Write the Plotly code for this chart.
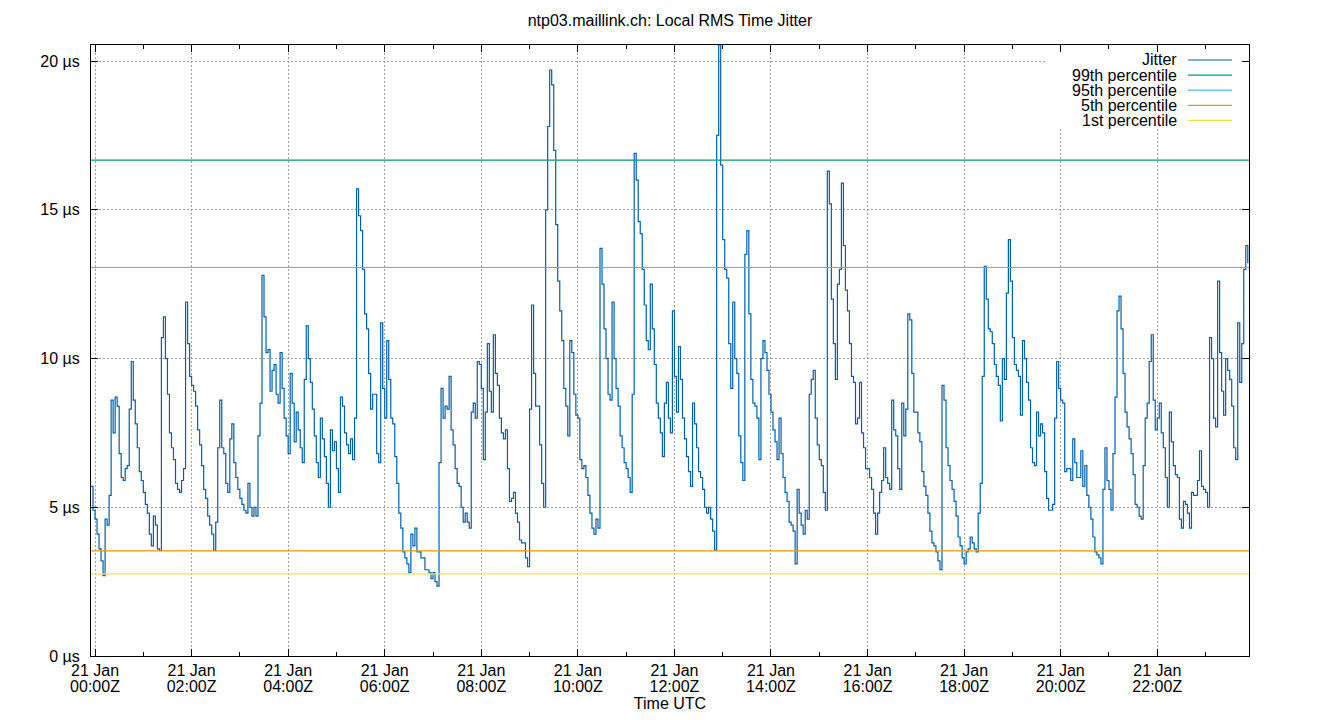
import pandas as pd
import plotly.graph_objects as go

title_text = "ntp03.maillink.ch: Local RMS Time Jitter"
x_title = "Time UTC"
series_start = "2024-01-20 23:55:00"
step = "150s"   # 2.5-minute samples
x_range = ["2024-01-20 23:55:00", "2024-01-21 23:54:00"]
y_range = [0, 20.54]

# Local RMS time jitter in microseconds (first two samples are 20 Jan 23:55 and 23:57:30)
jitter_us = [
    5.7, 4.9,
    4.6, 4.1, 3.6, 3.2, 2.7, 4.6, 4.4, 5.4, 8.6, 7.5, 8.7, 8.4,
    6.8, 6.0, 5.9, 6.3, 6.4, 8.3, 9.9, 8.6, 7.8, 7.0, 6.2, 5.9,          # 00h
    5.5, 5.1, 4.8, 4.1, 3.7, 4.7, 4.4, 3.6, 3.55, 10.7, 11.4, 10.0,
    8.8, 7.5, 7.0, 6.6, 5.8, 5.6, 5.5, 5.9, 6.3, 11.9, 10.5, 9.4,        # 01h
    9.1, 8.9, 8.4, 7.6, 7.1, 6.4, 5.6, 5.3, 4.7, 4.4, 4.1, 3.55,
    4.5, 7.0, 8.6, 7.0, 6.8, 5.8, 5.5, 7.3, 7.8, 6.5, 6.0, 5.6,          # 02h
    5.3, 5.1, 4.9, 4.8, 5.8, 5.0, 4.7, 5.0, 4.7, 7.4, 8.5, 12.8,
    11.4, 10.2, 10.3, 8.9, 9.6, 9.8, 8.8, 8.5, 10.2, 9.0, 8.0, 7.4,      # 03h
    6.8, 9.5, 8.5, 7.2, 8.2, 7.6, 7.0, 6.5, 9.3, 11.1, 10.0, 9.2,
    8.3, 7.4, 6.5, 6.0, 8.0, 7.3, 6.7, 5.8, 5.0, 7.6, 6.9, 7.2,          # 04h
    6.3, 5.5, 8.7, 8.4, 7.5, 7.1, 6.8, 7.3, 6.6, 8.0, 15.7, 14.8,
    14.3, 13.0, 11.5, 11.0, 9.5, 8.3, 8.8, 8.8, 6.8, 6.5, 11.2, 9.0,     # 05h
    8.0, 10.6, 9.3, 8.0, 7.8, 6.7, 5.8, 4.8, 4.3, 3.5, 3.3, 3.1,
    2.8, 4.1, 3.7, 4.3, 3.5, 3.5, 3.3, 3.3, 2.9, 2.9, 2.8, 2.6,          # 06h
    2.8, 2.5, 2.35, 6.5, 9.0, 8.0, 8.4, 8.3, 9.4, 7.6, 7.1, 6.3,
    5.8, 5.7, 5.0, 4.5, 4.8, 4.5, 4.3, 8.2, 8.5, 8.0, 9.9, 9.8,          # 07h
    9.0, 6.6, 8.2, 10.5, 8.9, 8.2, 10.8, 9.5, 9.1, 8.0, 7.5, 7.3,
    7.6, 6.3, 5.2, 5.3, 5.5, 4.8, 4.5, 3.9, 3.8, 3.8, 3.3, 3.0,          # 08h
    8.3, 11.8, 9.5, 8.4, 8.4, 7.1, 5.8, 5.0, 15.0, 17.8, 19.7, 19.2,
    17.0, 14.5, 12.6, 11.6, 10.6, 9.0, 8.4, 7.4, 10.6, 10.2, 8.8, 8.1,   # 09h
    8.0, 6.6, 6.3, 6.4, 6.0, 5.4, 4.8, 4.3, 4.1, 4.6, 4.3, 13.7,
    12.5, 11.0, 10.0, 8.8, 8.6, 11.9, 10.0, 9.0, 8.4, 7.4, 7.0, 6.5,     # 10h
    6.3, 6.0, 5.5, 8.8, 16.9, 16.0, 14.6, 14.2, 13.0, 11.8, 10.6, 10.3,
    12.5, 11.0, 9.8, 8.5, 8.0, 7.5, 6.7, 8.5, 9.2, 8.0, 7.5, 11.6,       # 11h
    9.4, 8.2, 10.4, 9.3, 8.0, 7.3, 6.7, 6.2, 5.7, 8.5, 7.8, 7.0,
    6.2, 6.0, 5.6, 5.0, 4.8, 5.0, 4.6, 4.2, 3.55, 17.5, 20.54, 16.5,     # 12h
    14.0, 13.0, 12.7, 10.5, 9.0, 11.9, 10.0, 9.5, 7.4, 6.5, 5.9, 13.5,
    14.3, 11.5, 9.3, 8.5, 8.4, 8.0, 6.6, 10.0, 10.6, 10.2, 9.6, 8.8,     # 13h
    8.2, 7.6, 7.2, 6.6, 8.0, 6.8, 6.0, 5.5, 5.2, 4.5, 4.4, 4.2,
    3.1, 5.6, 4.8, 4.4, 4.1, 4.9, 4.6, 8.8, 9.3, 9.6, 8.0, 7.1,          # 14h
    6.6, 6.4, 5.5, 4.9, 16.3, 15.2, 12.0, 10.5, 9.3, 12.5, 13.0, 15.9,
    13.8, 12.3, 11.6, 10.5, 9.4, 9.2, 7.8, 8.0, 9.2, 7.5, 7.0, 6.3,      # 15h
    6.3, 6.0, 5.6, 4.8, 4.1, 4.8, 5.5, 5.9, 7.0, 6.0, 5.8, 5.6,
    8.6, 7.6, 7.4, 6.3, 5.6, 8.5, 7.4, 8.3, 11.5, 11.3, 9.5, 8.2,        # 16h
    8.2, 7.5, 7.2, 6.2, 5.7, 5.4, 4.8, 4.2, 3.8, 3.7, 3.5, 3.2,
    2.9, 9.1, 8.6, 7.0, 6.4, 5.9, 5.6, 5.2, 4.7, 4.0, 3.7, 3.3,          # 17h
    3.1, 3.5, 3.6, 4.0, 3.8, 3.6, 3.5, 4.8, 5.8, 9.4, 13.1, 12.0,
    11.0, 10.9, 10.5, 9.8, 9.4, 9.1, 7.9, 10.0, 9.3, 12.2, 14.0, 12.6,   # 18h
    10.7, 9.8, 9.6, 9.4, 8.1, 10.6, 10.0, 9.2, 8.6, 7.0, 6.5, 6.4,
    8.2, 7.4, 7.8, 7.5, 6.2, 5.3, 4.9, 4.9, 5.1, 8.0, 9.9, 9.0,          # 19h
    8.6, 8.5, 6.2, 6.3, 6.3, 5.9, 7.3, 6.5, 6.0, 6.0, 6.9, 5.7,
    6.4, 5.4, 5.0, 4.6, 4.0, 3.5, 3.4, 3.3, 3.1, 5.6, 7.0, 5.9,          # 20h
    5.6, 4.9, 6.8, 8.7, 11.6, 12.1, 11.0, 9.5, 8.2, 7.7, 7.3, 6.8,
    6.1, 5.1, 5.0, 4.7, 4.6, 6.4, 8.0, 8.5, 9.9, 10.8, 8.6, 7.6,         # 21h
    8.0, 8.5, 7.5, 7.0, 6.0, 5.0, 8.2, 7.2, 6.4, 6.1, 6.0, 4.6,
    4.3, 5.2, 5.1, 4.8, 4.3, 5.5, 5.4, 5.4, 5.9, 6.9, 5.7, 5.6,          # 22h
    5.5, 5.0, 10.7, 10.0, 8.0, 7.7, 12.6, 10.2, 8.9, 8.1, 10.0, 9.6,
    9.3, 8.4, 7.0, 6.6, 11.2, 9.2, 10.5, 13.0, 13.8, 13.2,               # 23h
]

series_names = ["Jitter", "99th percentile", "95th percentile", "5th percentile", "1st percentile"]
series_colors = ["#0060ad", "#009e73", "#56b4e9", "#e69f00", "#f0e442"]
percentile_values = [16.67, 13.06, 3.535, 2.76]

times = pd.date_range(series_start, periods=len(jitter_us), freq=step)

FONT = "Liberation Sans, Arial, sans-serif"
OFF = 8                      # page body margin
W, H = 1340 - 2 * OFF, 720 - 2 * OFF
L, R, T, B = 91 - OFF, 1249 - OFF, 45 - OFF, 656 - OFF   # plot area in figure px

fig = go.Figure()
fig.add_trace(go.Scatter(
    x=times, y=jitter_us, mode="lines", name=series_names[0],
    line=dict(color=series_colors[0], width=1.2, shape="hv"),
    xaxis="x", yaxis="y", showlegend=False,
))
for name, val, col in zip(series_names[1:], percentile_values, series_colors[1:]):
    fig.add_trace(go.Scatter(
        x=x_range, y=[val, val], mode="lines", name=name,
        line=dict(color=col, width=1.2),
        xaxis="x2", yaxis="y", showlegend=False,
    ))

grid = dict(showgrid=True, gridcolor="#a0a0a0", griddash="2px,2px", gridwidth=1)

fig.update_layout(
    width=W, height=H,
    margin=dict(l=L, r=W - R, t=T, b=H - B, autoexpand=False),
    paper_bgcolor="white", plot_bgcolor="white",
    font=dict(family=FONT, size=16, color="black"),
    showlegend=False,
    title=dict(text=title_text, x=0.5, xanchor="center", y=1 - (20 - OFF) / H,
               yanchor="middle", yref="container",
               font=dict(family=FONT, size=16, color="black")),
    xaxis=dict(
        type="date", range=x_range, tickformat="%d %b",
        tick0="2024-01-21 00:00:00", dtick=7200000, tickmode="linear",
        ticks="inside", ticklen=7, tickcolor="black", tickwidth=1,
        minor=dict(dtick=3600000, tick0="2024-01-21 00:00:00", ticks="inside",
                   ticklen=4, tickcolor="black", showgrid=False),
        showline=True, linecolor="black", linewidth=1, mirror="ticks",
        zeroline=False, **grid,
    ),
    xaxis2=dict(
        type="date", range=x_range, overlaying="x", anchor="y", side="bottom",
        matches="x",
        tickformat="%H:%MZ", tick0="2024-01-21 00:00:00", dtick=7200000,
        tickmode="linear", ticks="", showline=False, showgrid=False,
        zeroline=False, ticklabelstandoff=19,
        title=dict(text=x_title, standoff=10, font=dict(family=FONT, size=16)),
    ),
    yaxis=dict(
        range=y_range, tickmode="linear", tick0=0, dtick=5, ticksuffix=" µs",
        ticks="inside", ticklen=7, tickcolor="black", tickwidth=1,
        ticklabelstandoff=7,
        showline=True, linecolor="black", linewidth=1, mirror="ticks",
        zeroline=False, **grid,
    ),
)

# key box (gnuplot style: text right-aligned, sample line to its right); page px -> paper
pw, ph = R - L, B - T
def px(xp): return (xp - OFF - L) / pw
def py(yp): return (B - (yp - OFF)) / ph

shapes = [dict(type="rect", xref="paper", yref="paper", layer="above",
               x0=px(1046), x1=px(1242), y0=py(128), y1=py(53),
               fillcolor="white", line=dict(width=0))]
annotations = []
for i, (name, col) in enumerate(zip(series_names, series_colors)):
    yy = 60 + i * 15.1
    shapes.append(dict(type="line", xref="paper", yref="paper", layer="above",
                       x0=px(1188), x1=px(1232), y0=py(yy), y1=py(yy),
                       line=dict(color=col, width=1.2)))
    annotations.append(dict(text=name, xref="paper", yref="paper",
                            x=px(1179), y=py(yy), xanchor="right", yanchor="middle",
                            showarrow=False, font=dict(family=FONT, size=16, color="black")))
fig.update_layout(shapes=shapes, annotations=annotations)

fig.write_html("out.html")
